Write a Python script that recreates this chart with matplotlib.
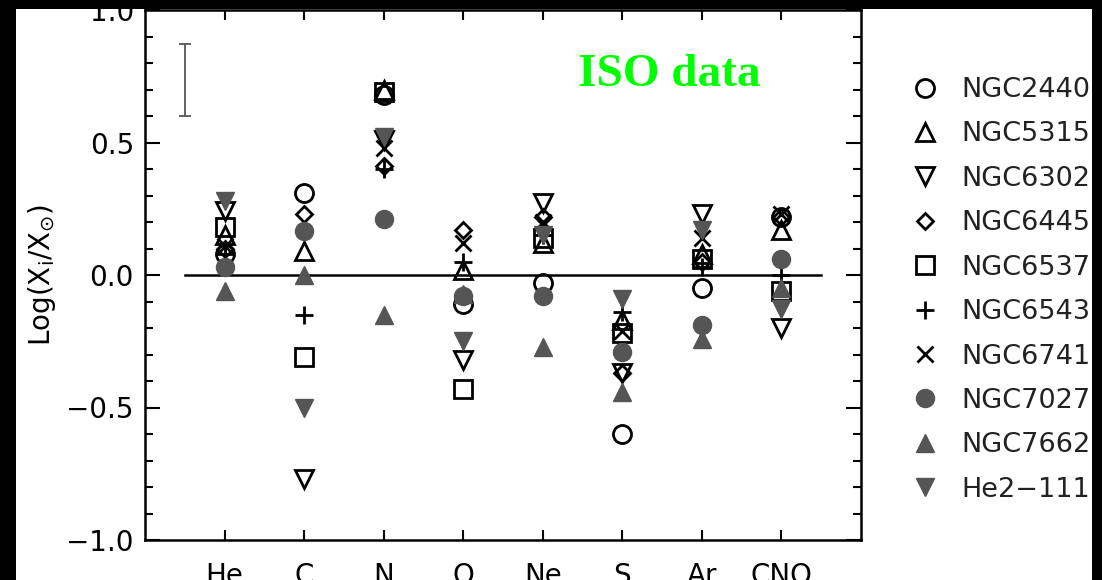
import numpy as np
import matplotlib
matplotlib.use("Agg")
import matplotlib.pyplot as plt
from matplotlib.patches import Rectangle

plt.rcParams['font.family'] = ['DejaVu Sans']
plt.rcParams['mathtext.fontset'] = 'dejavusans'

elements = ['He', 'C', 'N', 'O', 'Ne', 'S', 'Ar', 'CNO']
nan = np.nan
ngc2440 = [0.08, 0.31, 0.68, -0.11, -0.03, -0.60, -0.05, 0.22]
ngc5315 = [0.15, 0.09, 0.70, 0.02, 0.12, -0.17, 0.08, 0.17]
ngc6302 = [0.24, -0.77, 0.51, -0.32, 0.27, -0.37, 0.23, -0.20]
ngc6445 = [0.10, 0.23, 0.41, 0.17, 0.22, -0.37, 0.05, 0.22]
ngc6537 = [0.18, -0.31, 0.69, -0.43, 0.14, -0.22, 0.06, -0.06]
ngc6543 = [0.08, -0.15, 0.40, 0.05, 0.15, -0.14, 0.03, 0.00]
ngc6741 = [0.11, nan, 0.48, 0.12, 0.20, -0.21, 0.14, 0.23]
ngc7027 = [0.03, 0.165, 0.21, -0.08, -0.08, -0.29, -0.19, 0.06]
ngc7662 = [-0.06, 0.00, -0.15, -0.07, -0.27, -0.44, -0.24, -0.05]
he2_111 = [0.28, -0.50, 0.52, -0.25, 0.15, -0.09, 0.17, -0.13]

names = ['NGC2440', 'NGC5315', 'NGC6302', 'NGC6445', 'NGC6537',
         'NGC6543', 'NGC6741', 'NGC7027', 'NGC7662', 'He2\u2212111']
series = [ngc2440, ngc5315, ngc6302, ngc6445, ngc6537,
          ngc6543, ngc6741, ngc7027, ngc7662, he2_111]
error_bar_range = [0.60, 0.87]

grey = '#555555'
styles = [
    dict(marker='o', ms=13, mfc='none', mec='black', mew=2.0),
    dict(marker='^', ms=13, mfc='none', mec='black', mew=2.0),
    dict(marker='v', ms=13, mfc='none', mec='black', mew=2.0),
    dict(marker='D', ms=8.5, mfc='none', mec='black', mew=2.0),
    dict(marker='s', ms=12.5, mfc='none', mec='black', mew=2.0),
    dict(marker='+', ms=13, mfc='none', mec='black', mew=2.0),
    dict(marker='x', ms=11, mfc='none', mec='black', mew=2.0),
    dict(marker='o', ms=13, mfc=grey, mec=grey, mew=1.0),
    dict(marker='^', ms=13, mfc=grey, mec=grey, mew=1.0),
    dict(marker='v', ms=13, mfc=grey, mec=grey, mew=1.0),
]

fig = plt.figure(figsize=(11.02, 5.80), dpi=100, facecolor='black')
W, H = 1102, 580
fig.patches.append(Rectangle((16 / W, 0), (1092 - 16) / W, (580 - 9) / H,
                             transform=fig.transFigure, facecolor='white',
                             edgecolor='none', zorder=-5))

ax = fig.add_axes([145 / W, (580 - 540) / H, (861 - 145) / W, (540 - 10) / H])
ax.set_facecolor('white')
x = np.arange(1, len(elements) + 1)
handles = []
for vals, st, nm in zip(series, styles, names):
    h, = ax.plot(x, vals, linestyle='none', label=nm, **st)
    handles.append(h)

ax.plot([0.5, 8.5], [0, 0], color='black', lw=1.8, zorder=1)
ax.errorbar([0.5], [np.mean(error_bar_range)],
            yerr=[[np.mean(error_bar_range) - error_bar_range[0]],
                  [error_bar_range[1] - np.mean(error_bar_range)]],
            fmt='none', ecolor='#555555', elinewidth=1.3, capsize=4, capthick=1.3)

ax.text(5.44, 0.713, 'ISO data', color='#00ff00', fontsize=34,
        fontweight='bold', family='Liberation Serif', ha='left', va='baseline')

ax.set_xlim(0, 9)
ax.set_ylim(-1, 1)
ax.set_xticks(x)
ax.set_xticklabels(elements)
ax.set_yticks([-1.0, -0.5, 0.0, 0.5, 1.0])
ax.set_yticklabels(['\u22121.0', '\u22120.5', '0.0', '0.5', '1.0'])
ax.set_yticks(np.arange(-1.0, 1.01, 0.1), minor=True)
ax.tick_params(axis='y', which='major', direction='in', length=11, width=1.5,
               left=True, right=True, labelsize=20, pad=8)
ax.tick_params(axis='y', which='minor', direction='in', length=5.5, width=1.5,
               left=True, right=True)
ax.tick_params(axis='x', which='major', direction='in', length=7, width=1.5,
               top=True, bottom=True, labelsize=20, pad=16)
ax.tick_params(axis='x', which='minor', bottom=False, top=False)
for sp in ax.spines.values():
    sp.set_linewidth(1.8)

ax.set_ylabel(r'Log(X$_{\mathrm{i}}$/X$_{\odot}$)', fontsize=20, labelpad=6)

leg = fig.legend(handles=handles, labels=names, loc='upper left',
                 bbox_to_anchor=(911 / W, 1 - 77 / H), frameon=False,
                 fontsize=19.5, labelspacing=0.68, handlelength=1.0,
                 handletextpad=0.85, borderpad=0, borderaxespad=0, numpoints=1)
for t in leg.get_texts():
    t.set_color('#222222')

fig.patches.append(Rectangle((1092 / W, 0), 10 / W, 1, transform=fig.transFigure,
                             facecolor='black', edgecolor='none', zorder=10))
fig.savefig('out.png', dpi=100, facecolor='black')
